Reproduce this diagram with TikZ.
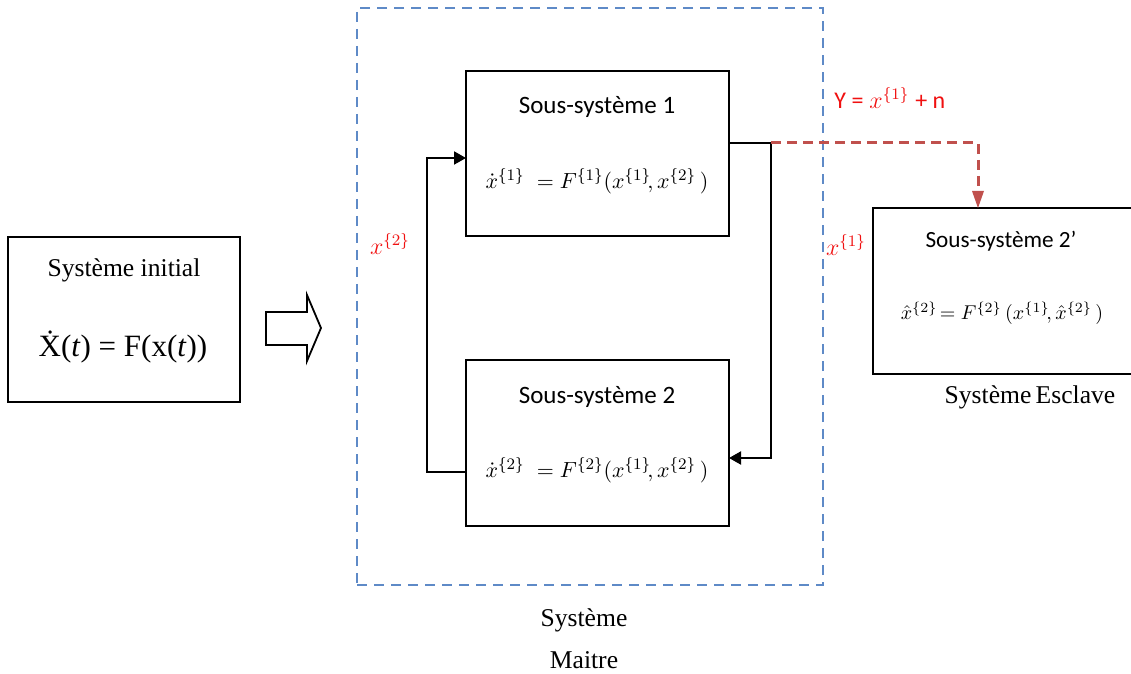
\documentclass[tikz,border=0pt]{standalone}
\usepackage{fontspec}
\setmainfont{Liberation Serif}
\newfontfamily\calib{Carlito}
\usetikzlibrary{arrows.meta}
\definecolor{frameblue}{HTML}{5E8AC7}
\definecolor{linkred}{HTML}{C0504D}
\definecolor{labelred}{HTML}{F01010}
\tikzset{
  block/.style={draw=black, line width=1pt, fill=white, inner sep=0pt},
  title/.style={font=\calib\fontsize{12.5}{14}\selectfont, inner sep=0pt},
  serif/.style={font=\fontsize{12.8}{14}\selectfont, inner sep=0pt},
  eqn/.style={font=\fontsize{11.3}{13}\selectfont, inner sep=0pt},
  redlabel/.style={text=labelred, font=\fontsize{12}{14}\selectfont, inner sep=0pt},
  wire/.style={line width=1pt, draw=black},
  tip/.style={-{Triangle[length=6pt,width=6.5pt]}},
  redlink/.style={draw=linkred, line width=1.5pt, dash pattern=on 5pt off 3pt},
  frame/.style={draw=frameblue, line width=1.4pt, dash pattern=on 5pt off 3.5pt}
}
\begin{document}
\begin{tikzpicture}[x=0.5pt, y=-0.5pt]
\useasboundingbox (0,0) rectangle (1131,674);
\clip (0,0) rectangle (1131,674);

% master frame
\node[frame, minimum width=233pt, minimum height=288.5pt, inner sep=0pt] (maitre) at (590,296.5) {};
\node[serif, align=center, font=\fontsize{12.8}{21}\selectfont] (maitrelbl) at (584,639) {Système\\Maitre};

% initial system
\node[block, minimum width=116pt, minimum height=82.5pt] (init) at (124,319.5) {};
\node[serif] (inittitle) at (124,270) {Système initial};
\node[serif, font=\fontsize{15.5}{17}\selectfont] (initeq) at (123,347) {Ẋ(\textit{t}) = F(x(\textit{t}))};

% hollow arrow
\draw[line width=0.9pt] (266,312) -- (307,312) -- (307,295) -- (321,328) -- (307,361) -- (307,345) -- (266,345) -- cycle;

% subsystem 1
\node[block, minimum width=131.5pt, minimum height=82.5pt] (b1) at (597.5,153.5) {};
\node[title] (b1title) at (597,107) {Sous-système 1};
\node[eqn] (b1eq) at (597,181) {$\dot{x}^{\{1\}}\; = F^{\{1\}}(x^{\{1\}}\!,x^{\{2\}}\,)$};

% subsystem 2
\node[block, minimum width=131.5pt, minimum height=83pt] (b2) at (597.5,443) {};
\node[title] (b2title) at (597,397) {Sous-système 2};
\node[eqn] (b2eq) at (597,470) {$\dot{x}^{\{2\}}\; = F^{\{2\}}(x^{\{1\}}\!,x^{\{2\}}\,)$};

% slave subsystem
\node[block, minimum width=133.5pt, minimum height=83pt] (b3) at (1006.5,291) {};
\node[title, font=\calib\fontsize{11.6}{13}\selectfont] (b3title) at (1001,241) {Sous-système 2’};
\node[eqn, font=\fontsize{10.2}{12}\selectfont] (b3eq) at (1002,313) {$\hat{x}^{\{2\}}\! = F^{\{2\}}\,(x^{\{1\}}\!,\hat{x}^{\{2\}}\,)$};
\node[serif] (esclave) at (1030,397) {Système\,Esclave};

% connection points
\coordinate (out1) at (729,143);
\coordinate (split) at (771,143);
\coordinate (turn2) at (771,458);
\coordinate (in2) at (729,458);
\coordinate (out2) at (466,472);
\coordinate (turn1a) at (427,472);
\coordinate (turn1b) at (427,158);
\coordinate (in1) at (466,158);
\coordinate (bend) at (978,143);
\coordinate (in3) at (978,208);

% feedback loops
\draw[wire] (out1) -- (split);
\draw[wire, tip] (split) -- (turn2) -- (in2);
\draw[wire, tip] (out2) -- (turn1a) -- (turn1b) -- (in1);

% observed signal to the slave
\draw[redlink] (split) -- (bend) -- ([yshift=4pt]in3);
\draw[draw=none, fill=linkred] (in3) -- ++(-6,-17) -- ++(12,0) -- cycle;

% red labels
\node[redlabel, anchor=west] (ylbl) at (834,98) {{\calib Y =} $x^{\{1\}}$ {\calib + n}};
\node[redlabel] (x1lbl) at (846,245) {$x^{\{1\}}$};
\node[redlabel] (x2lbl) at (390,244) {$x^{\{2\}}$};
\end{tikzpicture}
\end{document}
